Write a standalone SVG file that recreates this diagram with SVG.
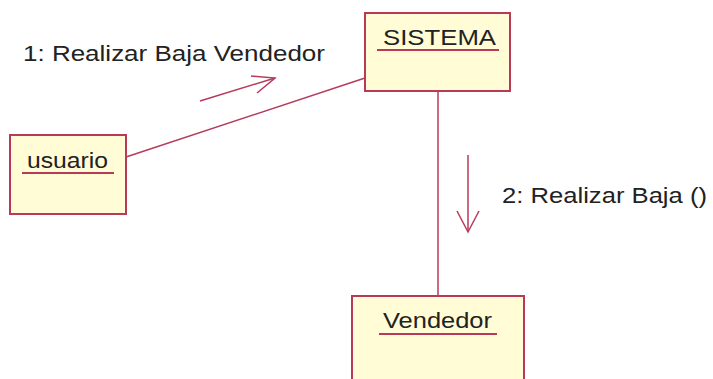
<svg xmlns="http://www.w3.org/2000/svg" width="713" height="379" viewBox="0 0 713 379">
<style>
.box{fill:#fffcd6;stroke:#b83a5a;stroke-width:2}
.ul{stroke:#b83a5a;stroke-width:2}
.ln{stroke:#b83a5a;stroke-width:1.5;fill:none}
.t{font-family:"Liberation Sans",Arial,sans-serif;font-size:22px;fill:#222}
</style>
<rect width="713" height="379" fill="#ffffff"/>
<g id="connectors">
<line class="ln" x1="126" y1="157" x2="365" y2="78"/>
<line class="ln" x1="438" y1="91" x2="438" y2="296"/>
<line class="ln" x1="200" y1="101" x2="275" y2="78"/>
<polyline class="ln" points="251,76 275,78 257,93"/>
<line class="ln" x1="468" y1="155" x2="468" y2="232"/>
<polyline class="ln" points="457,211 468,232 479,211"/>
<text class="t" x="23" y="61" textLength="302" lengthAdjust="spacingAndGlyphs">1: Realizar Baja Vendedor</text>
<text class="t" x="502" y="203" textLength="205" lengthAdjust="spacingAndGlyphs">2: Realizar Baja ()</text>
</g>
<g id="sistema">
<rect class="box" x="365" y="13" width="145" height="78"/>
<text class="t" x="383" y="45" textLength="113" lengthAdjust="spacingAndGlyphs">SISTEMA</text>
<line class="ul" x1="377" y1="50" x2="499" y2="50"/>
</g>
<g id="usuario">
<rect class="box" x="10" y="135" width="116" height="79"/>
<text class="t" x="27" y="168" textLength="81" lengthAdjust="spacingAndGlyphs">usuario</text>
<line class="ul" x1="22" y1="173" x2="114" y2="173"/>
</g>
<g id="vendedor">
<rect class="box" x="352" y="296" width="172" height="100"/>
<text class="t" x="383" y="328" textLength="109" lengthAdjust="spacingAndGlyphs">Vendedor</text>
<line class="ul" x1="379" y1="334" x2="497" y2="334"/>
</g>
</svg>
